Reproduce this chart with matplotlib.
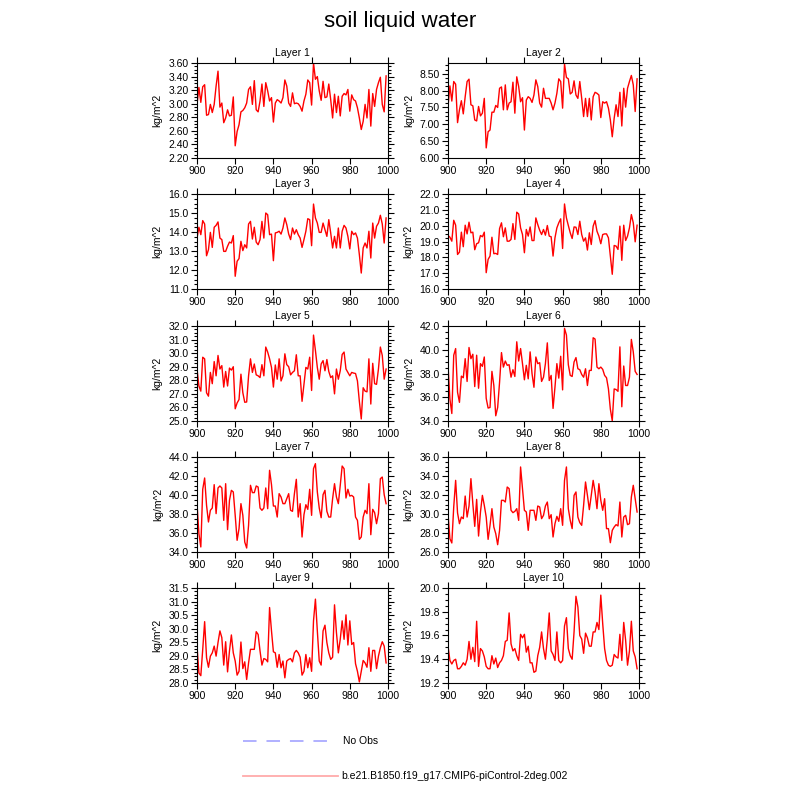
import matplotlib
matplotlib.use("Agg")
import matplotlib.pyplot as plt
from matplotlib.lines import Line2D
from matplotlib.ticker import MultipleLocator, FormatStrFormatter, AutoMinorLocator

plt.rcParams['font.family'] = ['Liberation Sans', 'DejaVu Sans']

years = list(range(900, 1000))

layer1 = [2.99, 3.24, 3.02, 3.25, 3.28, 2.83, 2.84, 2.99, 2.87, 2.99,
          3.26, 3.48, 2.95, 3.01, 2.72, 2.79, 2.91, 2.82, 2.83, 3.10,
          2.38, 2.59, 2.69, 2.88, 2.90, 2.94, 3.01, 3.21, 3.25, 2.99,
          3.34, 2.91, 2.88, 3.04, 3.29, 2.96, 3.31, 3.19, 3.04, 3.09,
          2.73, 3.01, 3.06, 3.04, 3.01, 3.09, 3.35, 3.26, 3.01, 2.96,
          3.16, 3.00, 3.01, 3.00, 2.96, 2.89, 3.04, 3.14, 3.35, 3.31,
          2.98, 3.60, 3.36, 3.40, 3.19, 3.05, 3.33, 3.09, 3.10, 3.29,
          3.06, 2.79, 3.14, 2.87, 3.11, 2.82, 3.11, 3.15, 3.13, 3.21,
          2.89, 3.13, 3.06, 3.04, 2.94, 2.79, 2.62, 2.74, 2.99, 2.79,
          3.21, 2.67, 3.15, 2.96, 3.21, 3.31, 3.39, 2.99, 2.88, 3.41]

layer2 = [7.53, 8.14, 7.69, 8.27, 8.19, 7.05, 7.43, 7.70, 7.31, 7.82,
          8.27, 8.34, 7.58, 7.55, 7.13, 7.10, 7.53, 7.25, 7.33, 7.77,
          6.30, 6.78, 6.83, 7.36, 7.36, 7.56, 7.50, 8.07, 8.11, 7.43,
          8.17, 7.43, 7.63, 7.67, 8.25, 7.33, 8.41, 8.12, 7.67, 7.79,
          6.83, 7.72, 7.82, 7.77, 7.65, 7.87, 8.32, 8.12, 7.63, 7.51,
          8.07, 7.77, 7.77, 7.77, 7.63, 7.43, 7.63, 7.92, 8.35, 8.27,
          7.48, 8.79, 8.39, 8.35, 7.90, 7.95, 8.29, 7.87, 7.77, 8.27,
          7.77, 7.23, 7.77, 7.23, 7.77, 7.13, 7.82, 7.95, 7.92, 7.87,
          7.20, 7.67, 7.63, 7.67, 7.48, 7.13, 6.63, 7.18, 7.58, 7.23,
          7.95, 6.95, 8.07, 7.51, 8.07, 8.27, 8.45, 8.17, 7.38, 8.35]

layer3 = [13.68, 14.25, 13.86, 14.60, 14.42, 12.75, 13.07, 13.98, 13.19, 14.25,
          14.35, 14.53, 13.68, 13.60, 12.98, 12.98, 13.25, 13.47, 13.42, 13.81,
          11.67, 12.46, 12.60, 13.51, 13.02, 13.33, 13.16, 14.42, 14.56, 13.63,
          14.25, 13.47, 13.33, 13.60, 14.56, 13.68, 15.00, 14.91, 13.86, 13.89,
          12.49, 13.95, 13.98, 14.04, 13.89, 14.21, 14.74, 14.39, 13.89, 13.60,
          14.21, 13.89, 14.12, 13.86, 13.68, 13.19, 13.60, 14.04, 14.70, 14.65,
          13.28, 15.47, 14.74, 14.47, 13.98, 13.98, 14.47, 14.12, 13.77, 14.65,
          13.95, 13.16, 13.77, 13.16, 14.21, 13.16, 14.04, 14.35, 14.21, 13.77,
          13.11, 14.04, 13.86, 13.95, 13.68, 12.81, 11.84, 13.16, 13.42, 13.16,
          14.04, 12.63, 14.47, 13.68, 14.30, 14.47, 14.88, 14.42, 13.42, 14.74]

layer4 = [19.38, 19.27, 19.02, 20.34, 20.03, 18.18, 18.33, 19.59, 18.67, 20.03,
          19.48, 20.22, 19.55, 19.59, 18.48, 18.86, 18.92, 19.38, 19.30, 19.59,
          17.03, 17.87, 18.08, 19.27, 18.23, 18.25, 18.18, 19.82, 20.18, 19.30,
          19.86, 19.02, 19.02, 19.13, 20.13, 19.13, 20.85, 20.74, 19.86, 19.44,
          18.29, 19.76, 19.34, 19.92, 19.06, 19.06, 20.49, 20.07, 19.71, 19.44,
          19.76, 19.40, 20.01, 19.34, 19.30, 18.08, 19.23, 19.86, 20.18, 20.43,
          18.56, 21.37, 20.49, 20.01, 19.55, 19.19, 19.92, 19.90, 19.44, 20.28,
          19.44, 19.02, 19.23, 18.46, 19.55, 18.81, 19.97, 20.32, 19.65, 19.34,
          18.86, 19.44, 19.48, 19.48, 19.23, 18.08, 16.93, 18.75, 18.71, 18.50,
          19.97, 17.81, 20.03, 19.06, 19.34, 19.86, 20.70, 20.18, 18.98, 20.03]

layer5 = [28.83, 27.58, 27.20, 29.70, 29.58, 27.08, 26.83, 28.58, 27.75, 29.38,
          28.33, 29.83, 28.83, 29.08, 27.50, 28.65, 27.58, 28.90, 28.75, 29.00,
          25.90, 26.33, 26.58, 28.45, 27.08, 26.38, 26.40, 28.33, 29.58, 28.58,
          29.20, 28.40, 28.33, 28.20, 29.15, 28.33, 30.45, 30.08, 29.58, 28.95,
          27.50, 29.13, 28.08, 29.58, 27.95, 28.33, 29.95, 29.15, 29.00, 28.40,
          28.58, 28.70, 29.88, 28.33, 28.33, 26.45, 27.70, 28.95, 28.83, 29.70,
          27.25, 31.33, 30.20, 28.95, 28.08, 29.20, 29.45, 28.70, 29.53, 28.65,
          28.20, 28.33, 27.00, 28.83, 28.08, 28.70, 29.90, 30.08, 28.83, 28.58,
          28.33, 28.58, 28.53, 28.50, 27.95, 26.45, 25.15, 27.45, 27.20, 27.15,
          29.58, 26.25, 29.25, 27.75, 27.70, 28.83, 30.45, 29.83, 28.08, 28.83]

layer6 = [38.69, 35.85, 34.63, 39.54, 40.10, 36.42, 35.57, 37.78, 37.64, 39.25,
          37.33, 40.19, 39.25, 39.62, 36.90, 39.54, 36.76, 38.83, 38.60, 39.39,
          35.91, 35.09, 35.14, 38.18, 36.99, 34.44, 35.14, 37.27, 39.76, 38.54,
          39.05, 38.69, 38.74, 37.69, 38.32, 37.75, 40.67, 39.05, 40.10, 38.83,
          37.47, 38.69, 37.55, 39.82, 37.98, 36.84, 39.39, 38.83, 38.91, 37.33,
          37.69, 38.83, 40.58, 37.41, 37.84, 35.06, 36.84, 38.83, 37.61, 39.45,
          36.62, 41.80, 41.24, 38.74, 37.84, 37.75, 38.97, 39.34, 38.40, 38.32,
          37.92, 37.69, 38.40, 36.99, 38.26, 38.26, 41.01, 40.90, 38.54, 38.40,
          38.54, 38.35, 37.84, 37.64, 36.70, 35.00, 34.01, 36.70, 36.65, 36.50,
          40.24, 35.20, 38.63, 36.99, 36.99, 37.69, 40.87, 39.82, 38.18, 37.92]

layer7 = [39.09, 35.93, 34.53, 40.60, 41.79, 38.91, 37.16, 38.39, 38.63, 41.09,
          38.04, 40.74, 40.95, 40.74, 37.33, 41.19, 36.35, 39.44, 40.49, 40.32,
          37.86, 35.23, 36.46, 39.09, 37.86, 35.05, 34.42, 36.81, 41.02, 40.25,
          40.25, 40.95, 40.84, 38.63, 38.39, 38.63, 40.74, 38.56, 42.60, 41.09,
          38.84, 38.84, 37.68, 40.14, 39.79, 39.09, 39.09, 39.61, 40.14, 38.39,
          38.28, 40.14, 41.65, 37.68, 39.09, 35.58, 37.93, 38.98, 38.49, 40.60,
          37.86, 42.77, 43.30, 40.32, 38.63, 37.61, 40.04, 40.49, 38.28, 37.68,
          37.68, 39.61, 41.19, 39.79, 39.09, 41.02, 43.05, 42.77, 39.68, 40.60,
          39.89, 39.96, 39.79, 37.68, 37.33, 35.33, 35.58, 37.68, 38.39, 38.04,
          41.19, 35.82, 38.49, 38.14, 36.98, 38.04, 41.72, 41.89, 40.04, 39.09]

layer8 = [30.04, 27.40, 26.95, 30.74, 33.54, 30.11, 28.98, 29.68, 29.51, 31.89,
          29.68, 30.84, 33.72, 31.09, 28.70, 31.54, 27.68, 30.21, 31.96, 30.91,
          29.68, 27.33, 28.81, 30.56, 28.63, 27.93, 26.77, 28.28, 31.44, 31.44,
          31.26, 32.84, 32.67, 30.39, 30.14, 30.28, 30.56, 29.33, 34.95, 32.67,
          30.39, 30.21, 28.28, 30.39, 30.39, 30.39, 29.33, 30.84, 30.74, 29.51,
          29.86, 30.84, 31.26, 29.51, 29.93, 27.58, 28.98, 29.75, 29.23, 30.56,
          28.81, 33.54, 34.95, 30.56, 29.33, 28.46, 31.96, 32.32, 29.68, 29.09,
          28.81, 30.91, 33.37, 31.96, 30.46, 31.96, 33.54, 32.32, 30.56, 33.19,
          31.44, 30.39, 31.61, 28.46, 28.46, 26.98, 28.28, 28.63, 28.88, 28.74,
          31.26, 27.58, 29.68, 29.86, 28.88, 28.98, 31.79, 33.02, 31.61, 30.21]

layer9 = [29.36, 28.37, 28.27, 29.24, 30.26, 28.93, 28.58, 28.99, 29.11, 29.36,
          28.99, 29.49, 29.92, 29.67, 28.66, 29.52, 28.41, 29.18, 29.77, 29.11,
          28.81, 28.29, 28.43, 29.51, 28.53, 28.78, 28.13, 28.74, 29.24, 29.24,
          29.24, 29.89, 29.79, 29.18, 28.66, 28.90, 28.87, 28.78, 30.78, 29.92,
          29.15, 29.11, 28.58, 29.05, 28.56, 28.81, 28.19, 28.81, 28.87, 28.90,
          28.78, 29.11, 29.20, 29.11, 28.95, 28.29, 28.43, 29.05, 28.56, 28.93,
          28.43, 30.29, 31.09, 29.92, 28.81, 28.66, 29.92, 30.13, 29.49, 29.11,
          28.87, 28.95, 30.88, 29.86, 29.11, 29.61, 30.29, 29.61, 30.51, 29.40,
          30.29, 29.42, 29.49, 28.71, 28.43, 28.04, 28.43, 28.83, 28.74, 28.58,
          29.30, 28.43, 29.20, 29.20, 28.53, 28.99, 29.30, 29.52, 29.36, 28.74]

layer10 = [19.51, 19.39, 19.36, 19.39, 19.40, 19.32, 19.32, 19.34, 19.37, 19.35,
           19.40, 19.55, 19.40, 19.50, 19.38, 19.72, 19.34, 19.49, 19.47, 19.42,
           19.34, 19.32, 19.32, 19.43, 19.36, 19.41, 19.33, 19.37, 19.39, 19.43,
           19.55, 19.56, 19.79, 19.53, 19.47, 19.49, 19.43, 19.39, 19.61, 19.58,
           19.61, 19.46, 19.51, 19.37, 19.37, 19.29, 19.30, 19.43, 19.50, 19.63,
           19.49, 19.40, 19.57, 19.79, 19.47, 19.44, 19.39, 19.63, 19.39, 19.37,
           19.39, 19.68, 19.75, 19.49, 19.43, 19.40, 19.63, 19.93, 19.84, 19.60,
           19.57, 19.45, 19.62, 19.58, 19.51, 19.51, 19.63, 19.63, 19.71, 19.65,
           19.94, 19.70, 19.49, 19.39, 19.35, 19.34, 19.35, 19.44, 19.42, 19.41,
           19.61, 19.39, 19.71, 19.56, 19.35, 19.47, 19.72, 19.47, 19.42, 19.32]

layers = [layer1, layer2, layer3, layer4, layer5, layer6, layer7, layer8, layer9, layer10]
titles = ["Layer %d" % (i + 1) for i in range(10)]
ylims = [(2.2, 3.6), (6.0, 8.82), (11.0, 16.0), (16.0, 22.0), (25.0, 32.0),
         (34.0, 42.0), (34.0, 44.0), (26.0, 36.0), (28.0, 31.5), (19.2, 20.0)]
ysteps = [0.2, 0.5, 1.0, 1.0, 1.0, 2.0, 2.0, 2.0, 0.5, 0.2]
yfmts = ["%.2f", "%.2f", "%.1f", "%.1f", "%.1f", "%.1f", "%.1f", "%.1f", "%.1f", "%.1f"]

fig = plt.figure(figsize=(8, 8), dpi=100)

# panel geometry in pixels
col_left = [197, 448]
row_top = [63, 194, 326, 457, 588]
pw, ph = 191, 95

for i, data in enumerate(layers):
    r, c = i // 2, i % 2
    ax = fig.add_axes([col_left[c] / 800, 1 - (row_top[r] + ph) / 800, pw / 800, ph / 800])
    ax.plot(years, data, color='red', lw=1.0)
    ax.set_xlim(900, 1000)
    ax.set_ylim(*ylims[i])
    ax.xaxis.set_major_locator(MultipleLocator(20))
    ax.yaxis.set_major_locator(MultipleLocator(ysteps[i]))
    ax.yaxis.set_minor_locator(AutoMinorLocator(4))
    ax.yaxis.set_major_formatter(FormatStrFormatter(yfmts[i]))
    ax.tick_params(which='both', direction='out', top=True, right=True,
                   labelsize=7.5, width=0.8, pad=2)
    ax.tick_params(which='major', length=4)
    ax.tick_params(which='minor', length=2)
    for s in ax.spines.values():
        s.set_linewidth(0.8)
    ax.set_title(titles[i], fontsize=7.5, pad=5)
    ax.set_ylabel("kg/m^2", fontsize=7.5, labelpad=4)

fig.text(0.5, 1 - 22 / 800, "soil liquid water", ha='center', va='center', fontsize=16)

# legend
fig.add_artist(Line2D([243 / 800, 330 / 800], [1 - 741 / 800] * 2, color='#aaaaff',
                      lw=1.3, ls=(0, (7.5, 5.5))))
fig.text(343 / 800, 1 - 741 / 800, "No Obs", fontsize=7.5, va='center')
fig.add_artist(Line2D([243 / 800, 338 / 800], [1 - 776 / 800] * 2, color='#ffaaaa', lw=1.3))
fig.text(341 / 800, 1 - 776 / 800, "b.e21.B1850.f19_g17.CMIP6-piControl-2deg.002",
         fontsize=7.5, va='center')

fig.savefig("out.png", dpi=100)
